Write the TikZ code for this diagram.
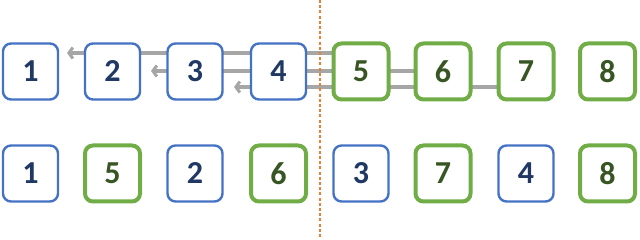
\documentclass[tikz,border=0pt]{standalone}
\usepackage{fontspec}
\setmainfont{Carlito}[BoldFont={Carlito Bold}]
\usetikzlibrary{arrows.meta}
\definecolor{bluebd}{HTML}{4472C4}
\definecolor{bluetx}{HTML}{1F3864}
\definecolor{greenbd}{HTML}{70AD47}
\definecolor{greentx}{HTML}{375623}
\definecolor{grayln}{HTML}{A6A6A6}
\definecolor{orangeln}{HTML}{ED7D31}
\tikzset{
  box/.style={minimum width=55pt, minimum height=56pt, rounded corners=8pt, fill=white, inner sep=0pt,
    font=\fontsize{32}{38}\selectfont\bfseries},
  bbox/.style={box, draw=bluebd, line width=2.4pt, text=bluetx},
  gbox/.style={box, draw=greenbd, line width=4pt, text=greentx},
  link/.style={draw=grayln, line width=3.5pt},
  arr/.style={link, -{Straight Barb[length=4pt 0 0, width=11pt 0 0, line width=3pt]}},
  sep/.style={draw=orangeln, line width=1.8pt, dash pattern=on 3pt off 2.2pt}
}
\begin{document}
\begin{tikzpicture}[x=1pt, y=-1pt]
\useasboundingbox (0,0) rectangle (640,240);
% link lines (behind)
\coordinate (t1) at (67,53);
\coordinate (t2) at (151,71);
\coordinate (t3) at (234,87);
\coordinate (s1) at (332,53);
\coordinate (s2) at (414,71);
\coordinate (s3) at (497,87);
\draw[arr] (s1) -- (t1);
\draw[arr] (s2) -- (t2);
\draw[arr] (s3) -- (t3);
% top row
\node[bbox] (a1) at (30.5,71.5) {1};
\node[bbox] (a2) at (112.5,71.5) {2};
\node[bbox] (a3) at (195,71.5) {3};
\node[bbox] (a4) at (278.5,71.5) {4};
\node[gbox] (a5) at (361,71.5) {5};
\node[gbox] (a6) at (443,71.5) {6};
\node[gbox] (a7) at (526,71.5) {7};
\node[gbox] (a8) at (607.5,71.5) {8};
% bottom row
\node[bbox] (b1) at (30.5,173.5) {1};
\node[gbox] (b2) at (112.5,173.5) {5};
\node[bbox] (b3) at (195,173.5) {2};
\node[gbox] (b4) at (278.5,173.5) {6};
\node[bbox] (b5) at (361,173.5) {3};
\node[gbox] (b6) at (443,173.5) {7};
\node[bbox] (b7) at (526,173.5) {4};
\node[gbox] (b8) at (607.5,173.5) {8};
% separator
\coordinate (d1) at (320,0);
\coordinate (d2) at (320,238);
\draw[sep] (d1) -- (d2);
\end{tikzpicture}
\end{document}
